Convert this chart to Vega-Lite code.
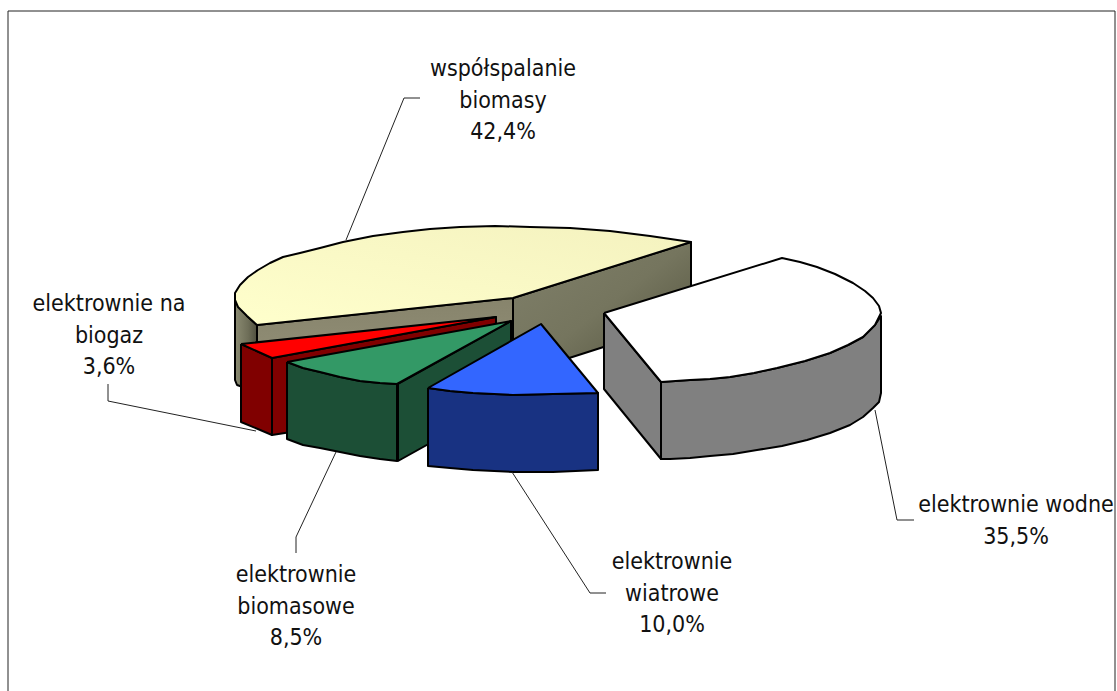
{"$schema":"https://vega.github.io/schema/vega-lite/v6.json","width":1117,"height":691,"padding":0,"autosize":"none","background":"white","view":{"stroke":null},
"datasets":{"shapes":[
{"part":"yellow left wall","i":0,"x":235,"y":293},{"part":"yellow left wall","i":1,"x":247,"y":316},{"part":"yellow left wall","i":2,"x":257,"y":325},{"part":"yellow left wall","i":3,"x":257,"y":392},{"part":"yellow left wall","i":4,"x":237,"y":385},{"part":"yellow left wall","i":5,"x":235,"y":380},{"part":"yellow left wall","i":6,"x":235,"y":293},
{"part":"yellow inner wall","i":0,"x":257,"y":325},{"part":"yellow inner wall","i":1,"x":513,"y":298},{"part":"yellow inner wall","i":2,"x":513,"y":376},{"part":"yellow inner wall","i":3,"x":257,"y":403},{"part":"yellow inner wall","i":4,"x":257,"y":325},
{"part":"yellow right wall","i":0,"x":513,"y":298},{"part":"yellow right wall","i":1,"x":691,"y":242},{"part":"yellow right wall","i":2,"x":691,"y":319},{"part":"yellow right wall","i":3,"x":513,"y":376},{"part":"yellow right wall","i":4,"x":513,"y":298},
{"part":"yellow top","i":0,"x":257,"y":325},{"part":"yellow top","i":1,"x":513,"y":298},{"part":"yellow top","i":2,"x":691,"y":242},{"part":"yellow top","i":3,"x":650,"y":236},{"part":"yellow top","i":4,"x":610,"y":231},{"part":"yellow top","i":5,"x":570,"y":228},{"part":"yellow top","i":6,"x":530,"y":227},{"part":"yellow top","i":7,"x":495,"y":226},{"part":"yellow top","i":8,"x":460,"y":227},{"part":"yellow top","i":9,"x":430,"y":229},{"part":"yellow top","i":10,"x":403,"y":232},{"part":"yellow top","i":11,"x":373,"y":236},{"part":"yellow top","i":12,"x":343,"y":242},{"part":"yellow top","i":13,"x":320,"y":248},{"part":"yellow top","i":14,"x":300,"y":253},{"part":"yellow top","i":15,"x":283,"y":257},{"part":"yellow top","i":16,"x":270,"y":263},{"part":"yellow top","i":17,"x":258,"y":270},{"part":"yellow top","i":18,"x":248,"y":277},{"part":"yellow top","i":19,"x":240,"y":285},{"part":"yellow top","i":20,"x":235,"y":293},{"part":"yellow top","i":21,"x":235,"y":300},{"part":"yellow top","i":22,"x":238,"y":307},{"part":"yellow top","i":23,"x":247,"y":316},{"part":"yellow top","i":24,"x":257,"y":325},
{"part":"b white cut side","i":0,"x":604,"y":313},{"part":"b white cut side","i":1,"x":661,"y":382},{"part":"b white cut side","i":2,"x":661,"y":459},{"part":"b white cut side","i":3,"x":604,"y":389},{"part":"b white cut side","i":4,"x":604,"y":313},
{"part":"c white outer side","i":0,"x":661,"y":382},{"part":"c white outer side","i":1,"x":690,"y":380},{"part":"c white outer side","i":2,"x":710,"y":379},{"part":"c white outer side","i":3,"x":730,"y":377},{"part":"c white outer side","i":4,"x":754,"y":373},{"part":"c white outer side","i":5,"x":777,"y":368},{"part":"c white outer side","i":6,"x":805,"y":361},{"part":"c white outer side","i":7,"x":830,"y":353},{"part":"c white outer side","i":8,"x":848,"y":345},{"part":"c white outer side","i":9,"x":863,"y":337},{"part":"c white outer side","i":10,"x":875,"y":325},{"part":"c white outer side","i":11,"x":881,"y":316},{"part":"c white outer side","i":12,"x":881,"y":393},{"part":"c white outer side","i":13,"x":879,"y":402},{"part":"c white outer side","i":14,"x":873,"y":408},{"part":"c white outer side","i":15,"x":863,"y":417},{"part":"c white outer side","i":16,"x":850,"y":425},{"part":"c white outer side","i":17,"x":830,"y":433},{"part":"c white outer side","i":18,"x":807,"y":440},{"part":"c white outer side","i":19,"x":782,"y":446},{"part":"c white outer side","i":20,"x":757,"y":450},{"part":"c white outer side","i":21,"x":733,"y":454},{"part":"c white outer side","i":22,"x":710,"y":456},{"part":"c white outer side","i":23,"x":690,"y":458},{"part":"c white outer side","i":24,"x":670,"y":459},{"part":"c white outer side","i":25,"x":661,"y":459},{"part":"c white outer side","i":26,"x":661,"y":382},
{"part":"d white top","i":0,"x":604,"y":313},{"part":"d white top","i":1,"x":782,"y":258},{"part":"d white top","i":2,"x":800,"y":262},{"part":"d white top","i":3,"x":817,"y":267},{"part":"d white top","i":4,"x":835,"y":274},{"part":"d white top","i":5,"x":853,"y":283},{"part":"d white top","i":6,"x":865,"y":291},{"part":"d white top","i":7,"x":873,"y":298},{"part":"d white top","i":8,"x":879,"y":306},{"part":"d white top","i":9,"x":881,"y":313},{"part":"d white top","i":10,"x":875,"y":325},{"part":"d white top","i":11,"x":863,"y":337},{"part":"d white top","i":12,"x":848,"y":345},{"part":"d white top","i":13,"x":830,"y":353},{"part":"d white top","i":14,"x":805,"y":361},{"part":"d white top","i":15,"x":777,"y":368},{"part":"d white top","i":16,"x":754,"y":373},{"part":"d white top","i":17,"x":730,"y":377},{"part":"d white top","i":18,"x":710,"y":379},{"part":"d white top","i":19,"x":690,"y":380},{"part":"d white top","i":20,"x":661,"y":382},{"part":"d white top","i":21,"x":604,"y":313},
{"part":"e red cut side","i":0,"x":272,"y":358},{"part":"e red cut side","i":1,"x":496,"y":317},{"part":"e red cut side","i":2,"x":496,"y":323},{"part":"e red cut side","i":3,"x":400,"y":415},{"part":"e red cut side","i":4,"x":272,"y":435},{"part":"e red cut side","i":5,"x":272,"y":358},
{"part":"f red outer side","i":0,"x":241,"y":344},{"part":"f red outer side","i":1,"x":272,"y":358},{"part":"f red outer side","i":2,"x":272,"y":435},{"part":"f red outer side","i":3,"x":241,"y":422},{"part":"f red outer side","i":4,"x":241,"y":344},
{"part":"g red top","i":0,"x":241,"y":344},{"part":"g red top","i":1,"x":496,"y":317},{"part":"g red top","i":2,"x":272,"y":358},{"part":"g red top","i":3,"x":241,"y":344},
{"part":"h green cut side","i":0,"x":398,"y":384},{"part":"h green cut side","i":1,"x":511,"y":321},{"part":"h green cut side","i":2,"x":511,"y":398},{"part":"h green cut side","i":3,"x":398,"y":461},{"part":"h green cut side","i":4,"x":398,"y":384},
{"part":"i green outer side","i":0,"x":287,"y":362},{"part":"i green outer side","i":1,"x":303,"y":368},{"part":"i green outer side","i":2,"x":320,"y":372},{"part":"i green outer side","i":3,"x":340,"y":377},{"part":"i green outer side","i":4,"x":360,"y":381},{"part":"i green outer side","i":5,"x":380,"y":383},{"part":"i green outer side","i":6,"x":397,"y":384},{"part":"i green outer side","i":7,"x":397,"y":461},{"part":"i green outer side","i":8,"x":380,"y":459},{"part":"i green outer side","i":9,"x":360,"y":456},{"part":"i green outer side","i":10,"x":340,"y":452},{"part":"i green outer side","i":11,"x":320,"y":448},{"part":"i green outer side","i":12,"x":303,"y":445},{"part":"i green outer side","i":13,"x":287,"y":439},{"part":"i green outer side","i":14,"x":287,"y":362},
{"part":"j green top","i":0,"x":287,"y":362},{"part":"j green top","i":1,"x":511,"y":321},{"part":"j green top","i":2,"x":397,"y":384},{"part":"j green top","i":3,"x":380,"y":383},{"part":"j green top","i":4,"x":360,"y":381},{"part":"j green top","i":5,"x":340,"y":377},{"part":"j green top","i":6,"x":320,"y":372},{"part":"j green top","i":7,"x":303,"y":368},{"part":"j green top","i":8,"x":287,"y":362},
{"part":"k blue side","i":0,"x":428,"y":388},{"part":"k blue side","i":1,"x":450,"y":391},{"part":"k blue side","i":2,"x":473,"y":393},{"part":"k blue side","i":3,"x":513,"y":395},{"part":"k blue side","i":4,"x":553,"y":394},{"part":"k blue side","i":5,"x":598,"y":393},{"part":"k blue side","i":6,"x":598,"y":470},{"part":"k blue side","i":7,"x":553,"y":472},{"part":"k blue side","i":8,"x":513,"y":472},{"part":"k blue side","i":9,"x":473,"y":470},{"part":"k blue side","i":10,"x":450,"y":468},{"part":"k blue side","i":11,"x":428,"y":466},{"part":"k blue side","i":12,"x":428,"y":388},
{"part":"l blue top","i":0,"x":428,"y":388},{"part":"l blue top","i":1,"x":541,"y":324},{"part":"l blue top","i":2,"x":598,"y":393},{"part":"l blue top","i":3,"x":553,"y":394},{"part":"l blue top","i":4,"x":513,"y":395},{"part":"l blue top","i":5,"x":473,"y":393},{"part":"l blue top","i":6,"x":450,"y":391},{"part":"l blue top","i":7,"x":428,"y":388}
],
"guides":[
{"part":"frame","i":0,"x":8,"y":700},{"part":"frame","i":1,"x":8,"y":11},{"part":"frame","i":2,"x":1115,"y":11},{"part":"frame","i":3,"x":1115,"y":700},
{"part":"leader 1","i":0,"x":346,"y":240},{"part":"leader 1","i":1,"x":404,"y":98},{"part":"leader 1","i":2,"x":420,"y":98},
{"part":"leader 2","i":0,"x":108,"y":384},{"part":"leader 2","i":1,"x":108,"y":401},{"part":"leader 2","i":2,"x":256,"y":431},
{"part":"leader 3","i":0,"x":336,"y":452},{"part":"leader 3","i":1,"x":296,"y":537},{"part":"leader 3","i":2,"x":296,"y":553},
{"part":"leader 4","i":0,"x":512,"y":472},{"part":"leader 4","i":1,"x":590,"y":593},{"part":"leader 4","i":2,"x":606,"y":593},
{"part":"leader 5","i":0,"x":875,"y":410},{"part":"leader 5","i":1,"x":897,"y":520},{"part":"leader 5","i":2,"x":914,"y":520}
],
"labels":[
{"label":"współspalanie\nbiomasy\n42,4%","x":503,"y":69},
{"label":"elektrownie na\nbiogaz\n3,6%","x":109,"y":304},
{"label":"elektrownie\nbiomasowe\n8,5%","x":296,"y":575},
{"label":"elektrownie\nwiatrowe\n10,0%","x":672,"y":562},
{"label":"elektrownie wodne\n35,5%","x":1016,"y":505}
]},
"encoding":{
"x":{"field":"x","type":"quantitative","scale":{"domain":[0,1117]},"axis":null},
"y":{"field":"y","type":"quantitative","scale":{"domain":[691,0]},"axis":null}
},
"layer":[
{"data":{"name":"shapes"},"transform":[{"filter":"datum.part=='yellow left wall'"}],"mark":{"type":"line","stroke":"black","strokeWidth":2,"strokeJoin":"round","fill":{"x1":0,"y1":0,"x2":1,"y2":0,"gradient":"linear","stops":[{"offset":0,"color":"#8b8b72"},{"offset":0.6,"color":"#6e6e58"},{"offset":1,"color":"#4e4e3e"}]}},"encoding":{"order":{"field":"i"}}},
{"data":{"name":"shapes"},"transform":[{"filter":"datum.part=='yellow inner wall'"}],"mark":{"type":"line","stroke":"black","strokeWidth":2,"strokeJoin":"round","fill":{"x1":0,"y1":0,"x2":0,"y2":1,"gradient":"linear","stops":[{"offset":0,"color":"#87846c"},{"offset":0.5,"color":"#8f8c74"},{"offset":1,"color":"#7c7a63"}]}},"encoding":{"order":{"field":"i"}}},
{"data":{"name":"shapes"},"transform":[{"filter":"datum.part=='yellow right wall'"}],"mark":{"type":"line","stroke":"black","strokeWidth":2,"strokeJoin":"round","fill":{"x1":0,"y1":0,"x2":1,"y2":1,"gradient":"linear","stops":[{"offset":0,"color":"#80806a"},{"offset":0.5,"color":"#75755e"},{"offset":1,"color":"#4f4f3a"}]}},"encoding":{"order":{"field":"i"}}},
{"data":{"name":"shapes"},"transform":[{"filter":"datum.part=='yellow top'"}],"mark":{"type":"line","stroke":"black","strokeWidth":2,"strokeJoin":"round","fill":{"x1":0,"y1":1,"x2":1,"y2":0,"gradient":"linear","stops":[{"offset":0,"color":"#ffffcc"},{"offset":1,"color":"#f4f2bf"}]}},"encoding":{"order":{"field":"i"}}},
{"data":{"name":"shapes"},"transform":[{"filter":"indexof(datum.part,'yellow')<0"}],"mark":{"type":"line","stroke":"black","strokeWidth":2,"strokeJoin":"round"},"encoding":{"order":{"field":"i"},"detail":{"field":"part"},"fill":{"field":"part","type":"nominal","legend":null,"scale":{"domain":["b white cut side","c white outer side","d white top","e red cut side","f red outer side","g red top","h green cut side","i green outer side","j green top","k blue side","l blue top"],"range":["#808080","#808080","#ffffff","#800000","#800000","#ff0000","#1c4f36","#1c4f36","#339966","#183282","#3366ff"]}}}},
{"data":{"name":"guides"},"mark":{"type":"line","stroke":"#222222","strokeWidth":1},"encoding":{"order":{"field":"i"},"detail":{"field":"part"},"strokeWidth":{"condition":{"test":"datum.part=='frame'","value":2},"value":1}}},
{"data":{"name":"labels"},"mark":{"type":"text","font":"DejaVu Sans Condensed, Open Sans","fontSize":23,"lineHeight":31.5,"lineBreak":"\n","align":"center","baseline":"middle","color":"#111111"},"encoding":{"text":{"field":"label"}}}
]}
